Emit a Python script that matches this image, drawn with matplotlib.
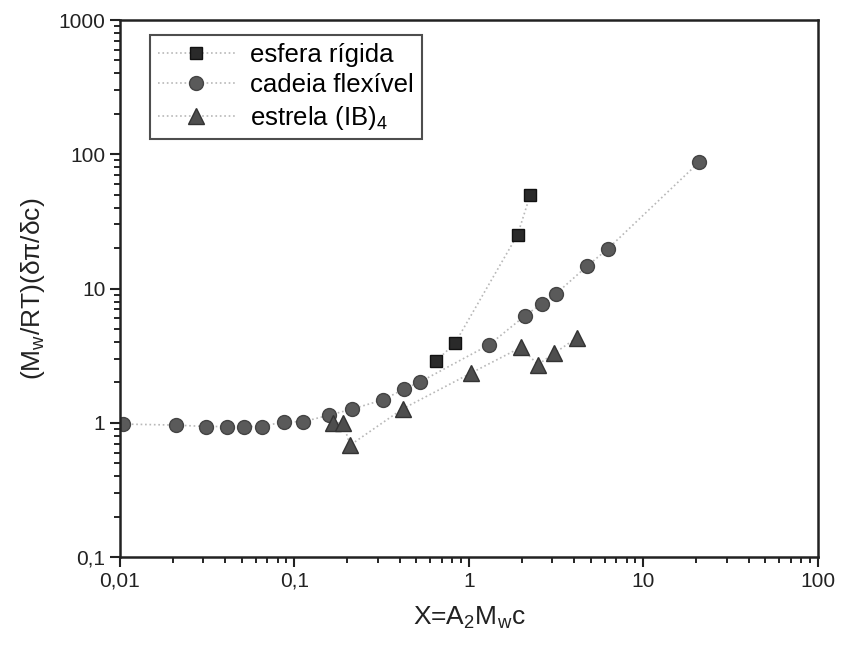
import numpy as np
import matplotlib
matplotlib.use("Agg")
import matplotlib.pyplot as plt
from matplotlib.ticker import FixedLocator, LogLocator, NullFormatter

plt.rcParams['font.family'] = ['Liberation Sans', 'DejaVu Sans']
plt.rcParams['mathtext.fontset'] = 'custom'
plt.rcParams['mathtext.rm'] = 'Liberation Sans'
plt.rcParams['mathtext.it'] = 'Liberation Sans'

# esfera rigida (squares)
x_esfera = [0.65, 0.83, 1.9, 2.24]
y_esfera = [2.9, 3.9, 25.2, 49.4]

# cadeia flexivel (circles)
x_cadeia = [0.0104, 0.021, 0.031, 0.041, 0.0516, 0.065, 0.087, 0.112, 0.158, 0.214,
            0.323, 0.424, 0.526, 1.31, 2.10, 2.61, 3.15, 4.73, 6.26, 20.9]
y_cadeia = [0.978, 0.961, 0.938, 0.938, 0.938, 0.938, 1.017, 1.017, 1.14, 1.265,
            1.485, 1.784, 2.02, 3.82, 6.29, 7.69, 9.13, 14.6, 19.8, 87.7]

# estrela (IB)4 (triangles)
x_estrela = [0.166, 0.19, 0.208, 0.417, 1.03, 1.99, 2.48, 3.08, 4.14]
y_estrela = [1.0, 1.0, 0.68, 1.27, 2.35, 3.65, 2.71, 3.29, 4.29]

x_ticks = [0.01, 0.1, 1, 10, 100]
x_labels = ["0,01", "0,1", "1", "10", "100"]
y_ticks = [0.1, 1, 10, 100, 1000]
y_labels = ["0,1", "1", "10", "100", "1000"]

fig = plt.figure(figsize=(8.45, 6.48), dpi=100)
ax = fig.add_axes([0.142, 0.1404, 0.826, 0.8287])

line_kw = dict(color="#b8b8b8", linestyle=":", linewidth=1.2)
ax.plot(x_esfera, y_esfera, marker="s", markersize=9, markerfacecolor="#2a2a2a",
        markeredgecolor="#111111", label="esfera rígida", **line_kw)
ax.plot(x_cadeia, y_cadeia, marker="o", markersize=10, markerfacecolor="#5a5a5a",
        markeredgecolor="#444444", label="cadeia flexível", **line_kw)
ax.plot(x_estrela, y_estrela, marker="^", markersize=11, markerfacecolor="#4e4e4e",
        markeredgecolor="#333333", label=r"estrela (IB)$_4$", **line_kw)

ax.set_xscale("log")
ax.set_yscale("log")
ax.set_xlim(0.01, 100)
ax.set_ylim(0.1, 1000)

ax.xaxis.set_major_locator(FixedLocator(x_ticks))
ax.set_xticklabels(x_labels)
ax.yaxis.set_major_locator(FixedLocator(y_ticks))
ax.set_yticklabels(y_labels)
ax.xaxis.set_minor_locator(LogLocator(base=10, subs=np.arange(2, 10)))
ax.yaxis.set_minor_locator(LogLocator(base=10, subs=np.arange(2, 10)))
ax.xaxis.set_minor_formatter(NullFormatter())
ax.yaxis.set_minor_formatter(NullFormatter())

ax.tick_params(which="major", direction="out", length=7, width=1.5, labelsize=15,
               colors="#222222", top=False, right=False)
ax.tick_params(which="minor", direction="out", length=4, width=1.2,
               top=False, right=False)
for s in ax.spines.values():
    s.set_linewidth(1.8)
    s.set_color("#222222")

ax.set_xlabel(r"X=A$_\mathregular{2}$M$_\mathregular{w}$c", fontsize=19, labelpad=10,
              color="#222222")
ax.set_ylabel(r"(M$_\mathregular{w}$/RT)(δπ/δc)", fontsize=19, labelpad=8,
              color="#222222")

leg = ax.legend(loc="upper left", bbox_to_anchor=(0.043, 0.972), borderaxespad=0,
                fontsize=18.5, frameon=True, fancybox=False, edgecolor="#222222",
                handlelength=3.0, borderpad=0.3, labelspacing=0.25,
                handletextpad=0.6)
leg.get_frame().set_linewidth(1.5)

fig.savefig("out.png", dpi=100)
